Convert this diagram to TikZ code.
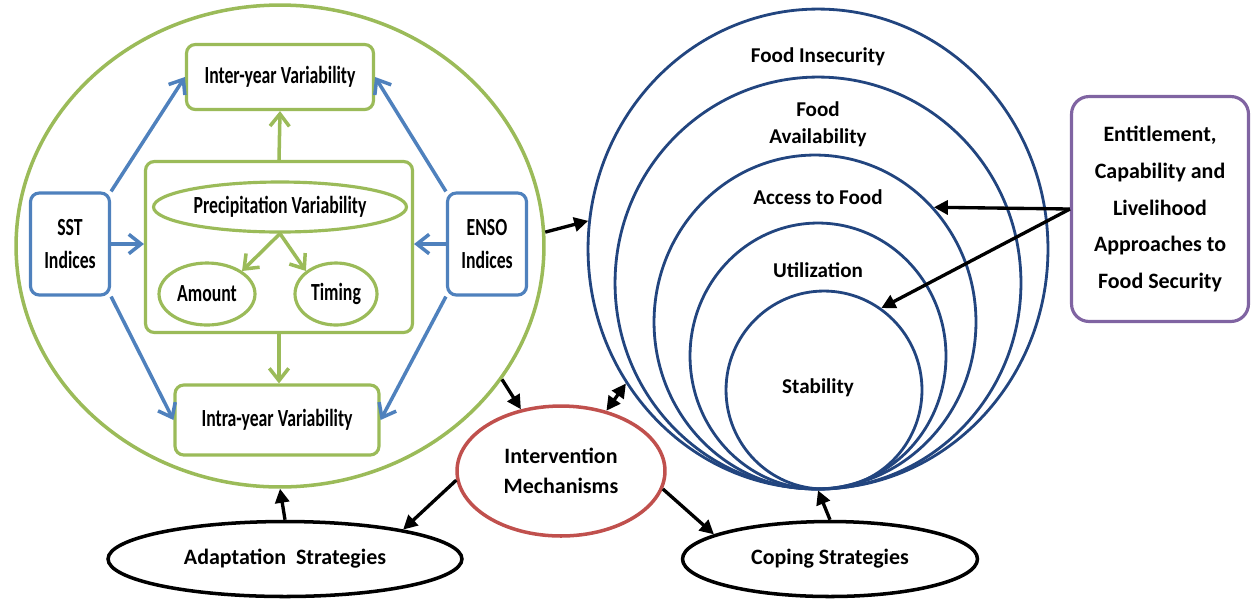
\documentclass[tikz,border=0pt]{standalone}
\usepackage{fontspec}
\setmainfont{Carlito}
\newfontfamily\narrowfont[FakeStretch=0.72]{Carlito}
\usetikzlibrary{shapes.geometric,arrows.meta,positioning}
\definecolor{leafgreen}{HTML}{9BBB59}
\definecolor{skyblue}{HTML}{4F81BD}
\definecolor{navy}{HTML}{22457F}
\definecolor{brick}{HTML}{C0504D}
\definecolor{plum}{HTML}{8064A2}

\begin{document}
\begin{tikzpicture}[
    x=0.02cm,y=-0.02cm,
    climbox/.style={draw=leafgreen,line width=1.8pt,fill=white,rounded corners=5pt,align=center,font=\narrowfont\bfseries\fontsize{14}{19}\selectfont},
    indexbox/.style={climbox,draw=skyblue},
    climoval/.style={climbox,ellipse,sharp corners,inner sep=0pt},
    ring/.style={draw=navy,line width=1.6pt,ellipse,inner sep=0pt},
    ringtext/.style={align=center,font=\bfseries\fontsize{12}{15.5}\selectfont},
    strategy/.style={draw,ellipse,line width=2pt,inner sep=0pt,align=center,font=\bfseries\fontsize{12.5}{17}\selectfont},
    bluearrow/.style={-{Straight Barb[length=7pt,width=11pt]},line width=2pt,draw=skyblue},
    greenarrow/.style={bluearrow,draw=leafgreen},
    arrow/.style={-{Triangle[length=8pt,width=8pt]},line width=1.9pt},
    dblarrow/.style={arrow,{Triangle[length=8pt,width=8pt]}-{Triangle[length=8pt,width=8pt]}}
  ]
    \useasboundingbox (0,0) rectangle (1253,600);

    % climate side
    \node[draw=leafgreen,line width=2pt,ellipse,minimum width=10.56cm,minimum height=9.64cm] (climate) at (280,246) {};
    \node[climbox,minimum width=3.74cm,minimum height=1.3cm] (inter) at (280,77) {Inter-year Variability};
    \node[climbox,minimum width=5.34cm,minimum height=3.42cm] (precipbox) at (279,247) {};
    \node[climoval,minimum width=5.06cm,minimum height=1cm] (precip) at (280,207) {Precipitation Variability};
    \node[climoval,minimum width=1.92cm,minimum height=1.24cm] (amount) at (207,294) {Amount};
    \node[climoval,minimum width=1.64cm,minimum height=1.24cm] (timing) at (336,294) {Timing};
    \node[climbox,minimum width=4.08cm,minimum height=1.4cm] (intra) at (277,420) {Intra-year Variability};
    \node[indexbox,minimum width=1.58cm,minimum height=2.04cm] (sst) at (70,244) {SST\\Indices};
    \node[indexbox,minimum width=1.58cm,minimum height=2.04cm] (enso) at (487,244) {ENSO\\Indices};

    \draw[bluearrow] (sst.north east) -- (inter.west);
    \draw[bluearrow] (sst.east) -- (sst.east -| precipbox.west);
    \draw[bluearrow] (sst.south east) -- (intra.west);
    \draw[bluearrow] (enso.north west) -- (inter.east);
    \draw[bluearrow] (enso.west) -- (enso.west -| precipbox.east);
    \draw[bluearrow] (enso.south west) -- (intra.east);
    \draw[greenarrow] (precipbox.north) -- (inter.south);
    \draw[greenarrow] (precipbox.south) -- (precipbox.south |- intra.north);
    \draw[greenarrow] (precip.south) -- (amount.north east);
    \draw[greenarrow] (precip.south) -- (timing.north west);

    % food security rings
    \node[ring,minimum width=9.2cm,minimum height=9.6cm] (e1) at (818,249) {};
    \node[ring,minimum width=8.12cm,minimum height=8.24cm] (e2) at (818,283) {};
    \node[ring,minimum width=6.44cm,minimum height=6.68cm] (e3) at (815,322) {};
    \node[ring,minimum width=5.12cm,minimum height=5.32cm] (e4) at (818,356) {};
    \node[ring,minimum width=3.92cm,minimum height=3.96cm] (e5) at (824,390) {};
    \node[ringtext] (insecurity) at (818,57) {Food Insecurity};
    \node[ringtext] (availability) at (818,124) {Food\\Availability};
    \node[ringtext] (access) at (818,197) {Access to Food};
    \node[ringtext] (utilization) at (818,270) {Utilization};
    \node[ringtext] (stability) at (818,388) {Stability};

    \node[draw=plum,line width=1.8pt,rounded corners=10pt,minimum width=3.54cm,minimum height=4.5cm,align=center,font=\bfseries\fontsize{12.5}{21}\selectfont] (approach) at (1160,209) {Entitlement,\\Capability and\\Livelihood\\Approaches to\\Food Security};

    % responses
    \node[strategy,draw=brick,minimum width=4.16cm,minimum height=2.6cm] (interv) at (561,471) {Intervention\\Mechanisms};
    \node[strategy,minimum width=7.08cm,minimum height=1.5cm] (adapt) at (285,559) {Adaptation\ \ Strategies};
    \node[strategy,minimum width=5.9cm,minimum height=1.5cm] (coping) at (830,559) {Coping Strategies};

    \draw[arrow] (climate.3) -- (e1.173);
    \draw[arrow] (climate.-31) -- (interv.123);
    \draw[dblarrow] (interv.53) -- (e1.215);
    \draw[arrow] (interv.185) -- (adapt.14);
    \draw[arrow] (interv.-10) -- (coping.168);
    \draw[arrow] (adapt.north) -- (climate.south);
    \draw[arrow] (coping.north) -- (e1.south);
    \draw[arrow] (approach.west) -- (e3.44);
    \draw[arrow] (approach.west) -- (e5.55);
  \end{tikzpicture}
\end{document}
